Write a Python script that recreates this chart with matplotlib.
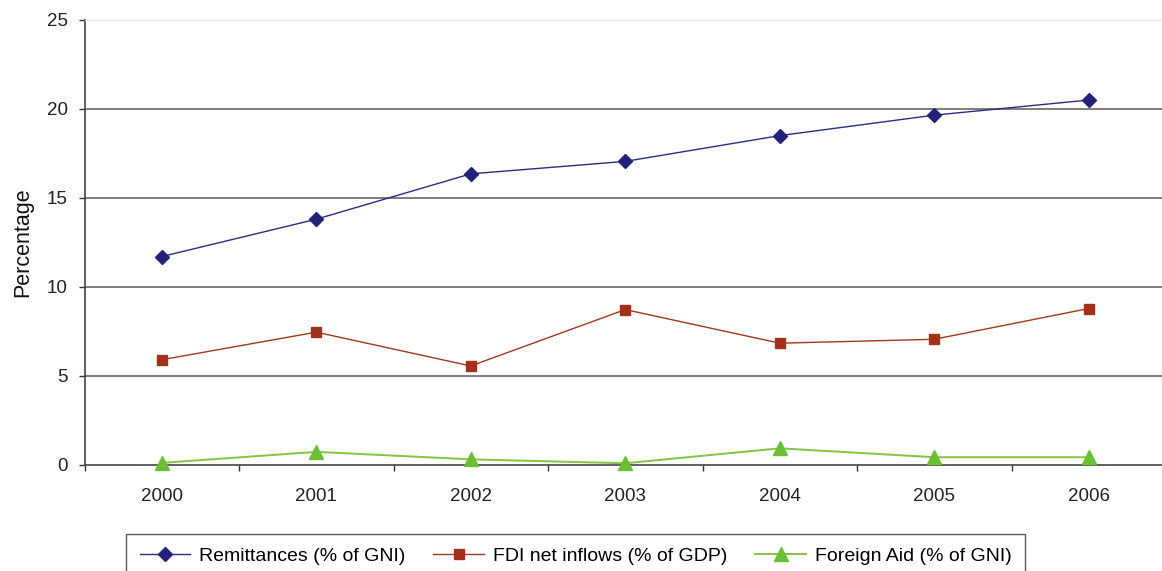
import matplotlib.pyplot as plt

years = ['2000', '2001', '2002', '2003', '2004', '2005', '2006']
remittances = [11.7, 13.8, 16.35, 17.05, 18.5, 19.65, 20.5]
fdi_inflows = [5.9, 7.45, 5.55, 8.72, 6.83, 7.05, 8.78]
foreign_aid = [0.1, 0.72, 0.3, 0.08, 0.92, 0.42, 0.42]

plt.rcParams['font.family'] = ['Liberation Sans', 'DejaVu Sans']

fig = plt.figure(figsize=(11.62, 5.71), dpi=100)
ax = fig.add_axes([84.5 / 1162, 0.1862, 1081.5 / 1162, 0.7788])

x = range(len(years))
ax.plot(x, remittances, color='#2B2B80', lw=1.0, marker='D', ms=7,
        mfc='#22227A', mec='#22227A', label='Remittances (% of GNI)', zorder=3, clip_on=False)
ax.plot(x, fdi_inflows, color='#9C3A1E', lw=1.0, marker='s', ms=7.5,
        mfc='#A2301C', mec='#A2301C', label='FDI net inflows (% of GDP)', zorder=3, clip_on=False)
ax.plot(x, foreign_aid, color='#84C441', lw=1.4, marker='^', ms=10,
        mfc='#6CBE35', mec='#6CBE35', label='Foreign Aid (% of GNI)', zorder=3, clip_on=False)

ax.set_xlim(-0.5, 6.5)
ax.set_ylim(0, 25)
ax.set_yticks([0, 5, 10, 15, 20, 25])
ax.set_xticks(list(x))
ax.set_xticklabels(years)
# category separators sit between the years
ax.set_xticks([i + 0.5 for i in range(-1, 7)], minor=True)
ax.tick_params(axis='x', which='major', length=0, pad=17, labelsize=13.5, colors='#222222')
ax.tick_params(axis='x', which='minor', length=4.3, width=1, direction='out', color='#333333')
ax.tick_params(axis='y', length=4, width=1, direction='out', pad=8, labelsize=13.5,
               colors='#222222', color='#333333')

for v in [5, 10, 15, 20]:
    ax.axhline(v, color='#5A5A5A', lw=1.1, zorder=1)

ax.spines['top'].set_color('#E4E4E4')
ax.spines['right'].set_visible(False)
ax.spines['left'].set_color('#444444')
ax.spines['bottom'].set_color('#444444')
ax.spines['left'].set_linewidth(1.2)
ax.spines['bottom'].set_linewidth(1.2)

ax.set_ylabel('Percentage', fontsize=15.5, color='#111111', labelpad=10)

leg = fig.legend(loc='upper left', bbox_to_anchor=(126 / 1162, 1 - 534 / 571), ncol=3,
                 frameon=True, fancybox=False, borderaxespad=0, handlelength=2.6,
                 columnspacing=1.45, handletextpad=0.45, borderpad=0.7,
                 prop={'size': 14})
leg.get_frame().set_edgecolor('#333333')
leg.get_frame().set_linewidth(1.0)

fig.savefig('out.png', dpi=100)
